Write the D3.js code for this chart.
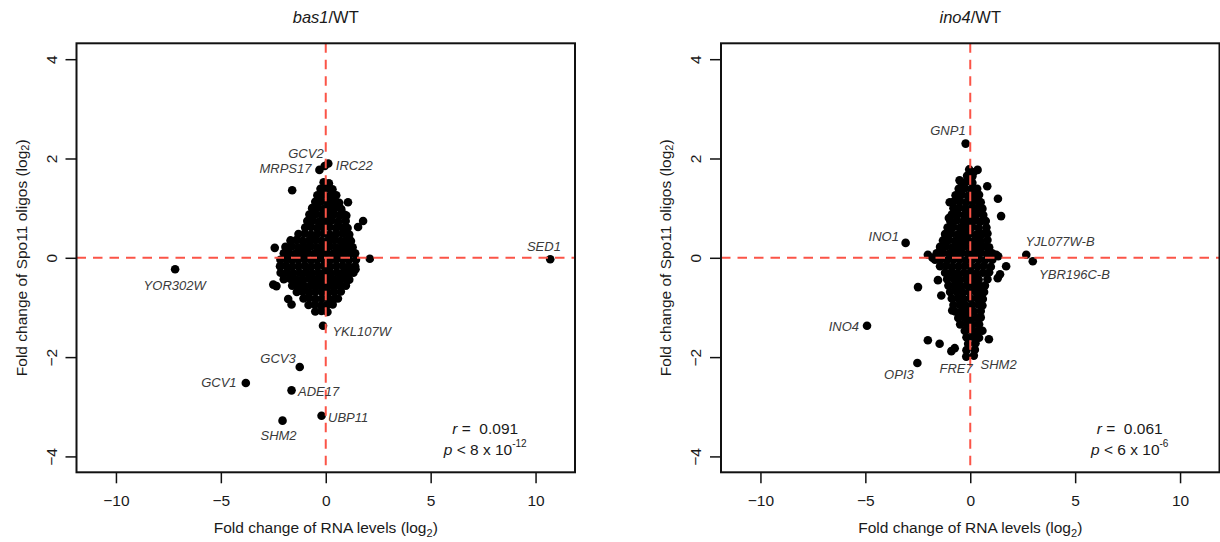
<!DOCTYPE html>
<html>
<head>
<meta charset="utf-8">
<script src="https://cdn.jsdelivr.net/npm/d3@7"></script>
<style>
  body { margin: 0; background: #fff; }
  svg { display: block; font-family: "Liberation Sans", Arial, Helvetica, sans-serif; }
</style>
</head>
<body>
<div id="drawingArea"></div>
<script>
// ---- data (log2 fold change of RNA, log2 fold change of Spo11 oligos) ----
const bas1Points = [
  // labelled genes
  [10.7,-0.03],[-7.18,-0.23],[-0.3,1.77],[-0.05,1.85],[0.12,1.9],[-0.13,-1.37],
  [-1.24,-2.2],[-3.81,-2.52],[-1.63,-2.67],[-0.2,-3.18],[-2.06,-3.28],
  // scattered genes
  [-1.6,1.36],[1.06,1.12],[0.98,0.85],[1.78,0.74],[1.54,0.62],[-2.43,0.2],[2.1,-0.02],
  [-2.5,-0.54],[-2.35,-0.57],[-1.79,-0.83],[-1.63,-0.94],[1.05,-0.44],[1.42,-0.23],
  // main cloud
  [-0.1,1.52],[0.15,1.5],
  [-0.25,1.39],[0.05,1.4],[0.32,1.38],
  [-0.4,1.26],[-0.1,1.27],[0.2,1.25],[0.5,1.26],
  [-0.5,1.13],[-0.22,1.14],[0.08,1.12],[0.38,1.13],[0.64,1.11],
  [-0.65,1.0],[-0.36,1.01],[-0.06,0.99],[0.24,1.0],[0.52,1.02],[0.74,0.98],
  [-0.78,0.87],[-0.5,0.88],[-0.2,0.86],[0.1,0.87],[0.4,0.88],[0.68,0.86],[0.88,0.87],
  [-0.88,0.74],[-0.6,0.75],[-0.3,0.73],[0.0,0.74],[0.3,0.75],[0.6,0.73],[0.95,0.74],
  [-0.98,0.61],[-0.7,0.62],[-0.42,0.6],[-0.12,0.61],[0.18,0.62],[0.48,0.6],[0.78,0.61],[1.04,0.6],
  [-1.3,0.48],[-1.0,0.49],[-0.7,0.47],[-0.4,0.48],[-0.1,0.49],[0.2,0.47],[0.5,0.48],[0.8,0.49],[1.12,0.47],
  [-1.68,0.35],[-1.4,0.36],[-1.1,0.34],[-0.8,0.35],[-0.5,0.36],[-0.2,0.34],[0.1,0.35],[0.4,0.36],[0.7,0.34],[0.95,0.35],[1.2,0.34],
  [-1.92,0.22],[-1.62,0.23],[-1.32,0.21],[-1.02,0.22],[-0.72,0.23],[-0.42,0.21],[-0.12,0.22],[0.18,0.23],[0.48,0.21],[0.78,0.22],[1.05,0.23],[1.28,0.21],
  [-2.0,0.09],[-1.75,0.1],[-1.45,0.08],[-1.15,0.09],[-0.85,0.1],[-0.55,0.08],[-0.25,0.09],[0.05,0.1],[0.35,0.08],[0.65,0.09],[0.95,0.1],[1.2,0.08],[1.4,0.09],
  [-2.16,-0.04],[-1.88,-0.03],[-1.6,-0.05],[-1.3,-0.04],[-1.0,-0.03],[-0.7,-0.05],[-0.4,-0.04],[-0.1,-0.03],[0.2,-0.05],[0.5,-0.04],[0.8,-0.03],[1.1,-0.05],[1.44,-0.04],
  [-2.18,-0.17],[-1.9,-0.16],[-1.6,-0.18],[-1.3,-0.17],[-1.0,-0.16],[-0.7,-0.18],[-0.4,-0.17],[-0.1,-0.16],[0.2,-0.18],[0.5,-0.17],[0.8,-0.16],[1.1,-0.18],[1.4,-0.17],
  [-2.15,-0.3],[-1.85,-0.29],[-1.55,-0.31],[-1.25,-0.3],[-0.95,-0.29],[-0.65,-0.31],[-0.35,-0.3],[-0.05,-0.29],[0.25,-0.31],[0.55,-0.3],[0.85,-0.29],[1.1,-0.31],[1.32,-0.3],
  [-2.0,-0.43],[-1.7,-0.42],[-1.4,-0.44],[-1.1,-0.43],[-0.8,-0.42],[-0.5,-0.44],[-0.2,-0.43],[0.1,-0.42],[0.4,-0.44],[0.7,-0.43],[0.95,-0.42],[1.12,-0.44],
  [-1.6,-0.56],[-1.3,-0.55],[-1.0,-0.57],[-0.7,-0.56],[-0.4,-0.55],[-0.1,-0.57],[0.2,-0.56],[0.5,-0.55],[0.75,-0.57],[0.96,-0.56],
  [-1.38,-0.69],[-1.1,-0.68],[-0.8,-0.7],[-0.5,-0.69],[-0.2,-0.68],[0.1,-0.7],[0.4,-0.69],[0.72,-0.68],
  [-1.06,-0.82],[-0.78,-0.81],[-0.48,-0.83],[-0.18,-0.82],[0.12,-0.81],[0.4,-0.83],[0.58,-0.82],
  [-0.82,-0.95],[-0.52,-0.94],[-0.22,-0.96],[0.06,-0.95],[0.33,-0.94],
  [-0.5,-1.08],[-0.2,-1.07],[0.08,-1.09]
];

const ino4Points = [
  // labelled genes
  [-0.22,2.3],[-3.08,0.3],[2.67,0.06],[2.98,-0.07],[-4.92,-1.37],[-2.52,-2.12],[-0.19,-1.99],[0.17,-1.97],
  // scattered genes
  [-0.51,1.56],[0.81,1.44],[1.32,1.19],[-0.98,1.12],[1.47,0.84],[-1.02,0.8],[-2.02,0.06],[-1.8,0.0],
  [1.24,0.06],[1.33,0.03],[1.71,-0.17],[-1.54,-0.45],[1.31,-0.41],[1.42,-0.33],[-2.49,-0.59],
  [-1.38,-0.76],[-0.86,-1.06],[-2.02,-1.66],[-1.46,-1.73],[-0.9,-1.88],[-0.74,-1.82],[0.89,-1.64],
  // main cloud
  [-0.05,1.78],[0.35,1.77],[0.15,1.72],
  [-0.15,1.65],[0.1,1.64],
  [-0.42,1.52],[-0.2,1.53],[0.1,1.51],
  [-0.55,1.39],[-0.25,1.4],[0.05,1.38],[0.33,1.39],
  [-0.7,1.26],[-0.4,1.27],[-0.1,1.25],[0.2,1.26],[0.42,1.27],
  [-0.8,1.13],[-0.5,1.14],[-0.2,1.12],[0.1,1.13],[0.4,1.14],[0.5,1.12],
  [-0.8,1.0],[-0.52,1.01],[-0.22,0.99],[0.08,1.0],[0.36,1.01],[0.58,0.99],
  [-0.88,0.87],[-0.6,0.88],[-0.3,0.86],[0.0,0.87],[0.3,0.88],[0.62,0.86],
  [-0.95,0.74],[-0.65,0.75],[-0.35,0.73],[-0.05,0.74],[0.25,0.75],[0.5,0.73],[0.74,0.74],
  [-1.08,0.61],[-0.8,0.62],[-0.5,0.6],[-0.2,0.61],[0.1,0.62],[0.4,0.6],[0.77,0.61],
  [-1.2,0.48],[-0.9,0.49],[-0.6,0.47],[-0.3,0.48],[0.0,0.49],[0.3,0.47],[0.58,0.48],[0.82,0.49],
  [-1.3,0.35],[-1.02,0.36],[-0.72,0.34],[-0.42,0.35],[-0.12,0.36],[0.18,0.34],[0.48,0.35],[0.82,0.36],
  [-1.44,0.22],[-1.15,0.23],[-0.85,0.21],[-0.55,0.22],[-0.25,0.23],[0.05,0.21],[0.35,0.22],[0.65,0.23],[0.9,0.21],
  [-1.6,0.09],[-1.3,0.1],[-1.0,0.08],[-0.7,0.09],[-0.4,0.1],[-0.1,0.08],[0.2,0.09],[0.5,0.1],[0.8,0.08],[1.05,0.09],
  [-1.68,-0.04],[-1.4,-0.03],[-1.1,-0.05],[-0.8,-0.04],[-0.5,-0.03],[-0.2,-0.05],[0.1,-0.04],[0.4,-0.03],[0.7,-0.05],[1.05,-0.04],
  [-1.44,-0.17],[-1.15,-0.16],[-0.85,-0.18],[-0.55,-0.17],[-0.25,-0.16],[0.05,-0.18],[0.35,-0.17],[0.65,-0.16],[0.98,-0.18],
  [-1.2,-0.3],[-0.9,-0.29],[-0.6,-0.31],[-0.3,-0.3],[0.0,-0.29],[0.3,-0.31],[0.6,-0.3],[0.9,-0.29],
  [-1.1,-0.43],[-0.8,-0.42],[-0.5,-0.44],[-0.2,-0.43],[0.1,-0.42],[0.4,-0.44],[0.82,-0.43],
  [-1.04,-0.56],[-0.75,-0.55],[-0.45,-0.57],[-0.15,-0.56],[0.15,-0.55],[0.45,-0.57],[0.7,-0.56],
  [-0.96,-0.69],[-0.66,-0.68],[-0.36,-0.7],[-0.06,-0.69],[0.24,-0.68],[0.5,-0.7],[0.66,-0.69],
  [-0.88,-0.82],[-0.6,-0.81],[-0.3,-0.83],[0.0,-0.82],[0.3,-0.81],[0.6,-0.83],
  [-0.8,-0.95],[-0.5,-0.94],[-0.2,-0.96],[0.1,-0.95],[0.4,-0.94],[0.58,-0.96],
  [-0.72,-1.08],[-0.42,-1.07],[-0.12,-1.09],[0.18,-1.08],[0.5,-1.07],
  [-0.57,-1.21],[-0.28,-1.2],[0.02,-1.22],[0.32,-1.21],[0.5,-1.2],
  [-0.48,-1.34],[-0.18,-1.33],[0.12,-1.35],[0.42,-1.34],
  [-0.26,-1.47],[0.04,-1.46],[0.34,-1.48],[0.58,-1.47],
  [-0.18,-1.6],[0.12,-1.59],[0.42,-1.61],
  [-0.1,-1.73],[0.25,-1.72],
  [-0.18,-1.86],[0.22,-1.85]
];

// gene labels: text position in data units, anchor of the text
const bas1Labels = [
  { gene: "SED1", x: 10.4, y: 0.22, anchor: "middle" },
  { gene: "YOR302W", x: -7.2, y: -0.56, anchor: "middle" },
  { gene: "GCV2", x: -0.1, y: 2.11, anchor: "end" },
  { gene: "MRPS17", x: -0.68, y: 1.79, anchor: "end" },
  { gene: "IRC22", x: 0.48, y: 1.85, anchor: "start" },
  { gene: "YKL107W", x: 0.32, y: -1.48, anchor: "start" },
  { gene: "GCV3", x: -1.43, y: -2.02, anchor: "end" },
  { gene: "GCV1", x: -4.25, y: -2.52, anchor: "end" },
  { gene: "ADE17", x: -1.32, y: -2.69, anchor: "start" },
  { gene: "UBP11", x: 0.11, y: -3.21, anchor: "start" },
  { gene: "SHM2", x: -2.25, y: -3.58, anchor: "middle" }
];

const ino4Labels = [
  { gene: "GNP1", x: -0.22, y: 2.57, anchor: "end" },
  { gene: "INO1", x: -3.4, y: 0.42, anchor: "end" },
  { gene: "YJL077W-B", x: 2.63, y: 0.33, anchor: "start" },
  { gene: "YBR196C-B", x: 3.28, y: -0.33, anchor: "start" },
  { gene: "INO4", x: -5.3, y: -1.38, anchor: "end" },
  { gene: "OPI3", x: -3.4, y: -2.36, anchor: "middle" },
  { gene: "FRE7", x: 0.12, y: -2.23, anchor: "end" },
  { gene: "SHM2", x: 0.49, y: -2.14, anchor: "start" }
];

const xTicks = [-10, -5, 0, 5, 10];
const yTicks = [-4, -2, 0, 2, 4];
const panelTitles = [["bas1", "/WT"], ["ino4", "/WT"]];
const rValues = ["0.091", "0.061"];
const pValues = [["8", "-12"], ["6", "-6"]];

// ---- drawing ----
const W = 1220, H = 542;
const svg = d3.select("#drawingArea").append("svg")
  .attr("width", W)
  .attr("height", H);

const frameW = 498.5, frameTop = 43.3, frameBottom = 472.3;
const panelLeft = [76.5, 721];
const dashRed = "#fb5447";

function drawPanel(i, points, labels) {
  const left = panelLeft[i];
  const x = d3.scaleLinear().domain([-11.88, 11.88]).range([left, left + frameW]);
  const y = d3.scaleLinear().domain([-4.32, 4.32]).range([frameBottom, frameTop]);
  const g = svg.append("g");
  const cx = left + frameW / 2;

  // points
  g.append("g").selectAll("circle")
    .data(points)
    .join("circle")
    .attr("cx", d => x(d[0]))
    .attr("cy", d => y(d[1]))
    .attr("r", 4.3)
    .attr("fill", "#000");

  // dashed reference lines
  g.append("line")
    .attr("x1", x(0)).attr("x2", x(0))
    .attr("y1", frameTop).attr("y2", frameBottom)
    .attr("stroke", dashRed).attr("stroke-width", 2)
    .attr("stroke-dasharray", "9.5,7");
  g.append("line")
    .attr("x1", left).attr("x2", left + frameW)
    .attr("y1", y(0)).attr("y2", y(0))
    .attr("stroke", dashRed).attr("stroke-width", 2)
    .attr("stroke-dasharray", "9.5,7");

  // gene labels
  g.append("g").selectAll("text")
    .data(labels)
    .join("text")
    .attr("x", d => x(d.x))
    .attr("y", d => y(d.y))
    .attr("text-anchor", d => d.anchor)
    .attr("dominant-baseline", "central")
    .attr("font-style", "italic")
    .attr("font-size", 13)
    .attr("fill", "#3a3a3a")
    .text(d => d.gene);

  // frame
  g.append("rect")
    .attr("x", left).attr("y", frameTop)
    .attr("width", frameW).attr("height", frameBottom - frameTop)
    .attr("fill", "none").attr("stroke", "#111").attr("stroke-width", 2);

  // axes
  const xAxis = g.append("g")
    .attr("transform", `translate(0,${frameBottom})`)
    .call(d3.axisBottom(x).tickValues(xTicks).tickSize(11).tickPadding(12));
  const yAxis = g.append("g")
    .attr("transform", `translate(${left},0)`)
    .call(d3.axisLeft(y).tickValues(yTicks).tickSize(11));
  [xAxis, yAxis].forEach(a => {
    a.select(".domain").remove();
    a.selectAll(".tick line").attr("stroke", "#111").attr("stroke-width", 1.5);
    a.selectAll(".tick text")
      .attr("font-size", 15.5)
      .attr("font-family", "'Liberation Sans', Arial, sans-serif")
      .attr("fill", "#1a1a1a");
  });
  yAxis.selectAll(".tick text")
    .attr("x", null).attr("dy", null)
    .attr("text-anchor", "middle")
    .attr("dominant-baseline", "central")
    .attr("transform", "translate(-25.5,0) rotate(-90)");

  // titles
  const title = g.append("text")
    .attr("x", cx).attr("y", 17)
    .attr("text-anchor", "middle")
    .attr("dominant-baseline", "central")
    .attr("font-size", 16.5)
    .attr("fill", "#1a1a1a");
  title.append("tspan").attr("font-style", "italic").text(panelTitles[i][0]);
  title.append("tspan").text(panelTitles[i][1]);

  const xt = g.append("text")
    .attr("x", cx).attr("y", 533)
    .attr("text-anchor", "middle")
    .attr("font-size", 15.5)
    .attr("fill", "#1a1a1a");
  xt.append("tspan").text("Fold change of RNA levels (log");
  xt.append("tspan").attr("font-size", 11).attr("dy", 4).text("2");
  xt.append("tspan").attr("dy", -4).text(")");

  const yt = g.append("text")
    .attr("transform", `translate(${left - 56},${(frameTop + frameBottom) / 2}) rotate(-90)`)
    .attr("text-anchor", "middle")
    .attr("dominant-baseline", "central")
    .attr("font-size", 15.5)
    .attr("fill", "#1a1a1a");
  yt.append("tspan").text("Fold change of Spo11 oligos (log");
  yt.append("tspan").attr("font-size", 11).attr("dy", 4).text("2");
  yt.append("tspan").attr("dy", -4).text(")");

  // correlation annotation
  const ax = x(7.6);
  const rt = g.append("text")
    .attr("x", ax).attr("y", y(-3.43))
    .attr("text-anchor", "middle").attr("dominant-baseline", "central")
    .attr("font-size", 15.5).attr("fill", "#1a1a1a");
  rt.append("tspan").attr("font-style", "italic").text("r");
  rt.append("tspan").attr("xml:space", "preserve").text(" =  " + rValues[i]);

  const pt = g.append("text")
    .attr("x", ax).attr("y", y(-3.85))
    .attr("text-anchor", "middle").attr("dominant-baseline", "central")
    .attr("font-size", 15.5).attr("fill", "#1a1a1a");
  pt.append("tspan").attr("font-style", "italic").text("p");
  pt.append("tspan").text(" < " + pValues[i][0] + " x 10");
  pt.append("tspan").attr("font-size", 10).attr("dy", -6).text(pValues[i][1]);
}

drawPanel(0, bas1Points, bas1Labels);
drawPanel(1, ino4Points, ino4Labels);
</script>
</body>
</html>
